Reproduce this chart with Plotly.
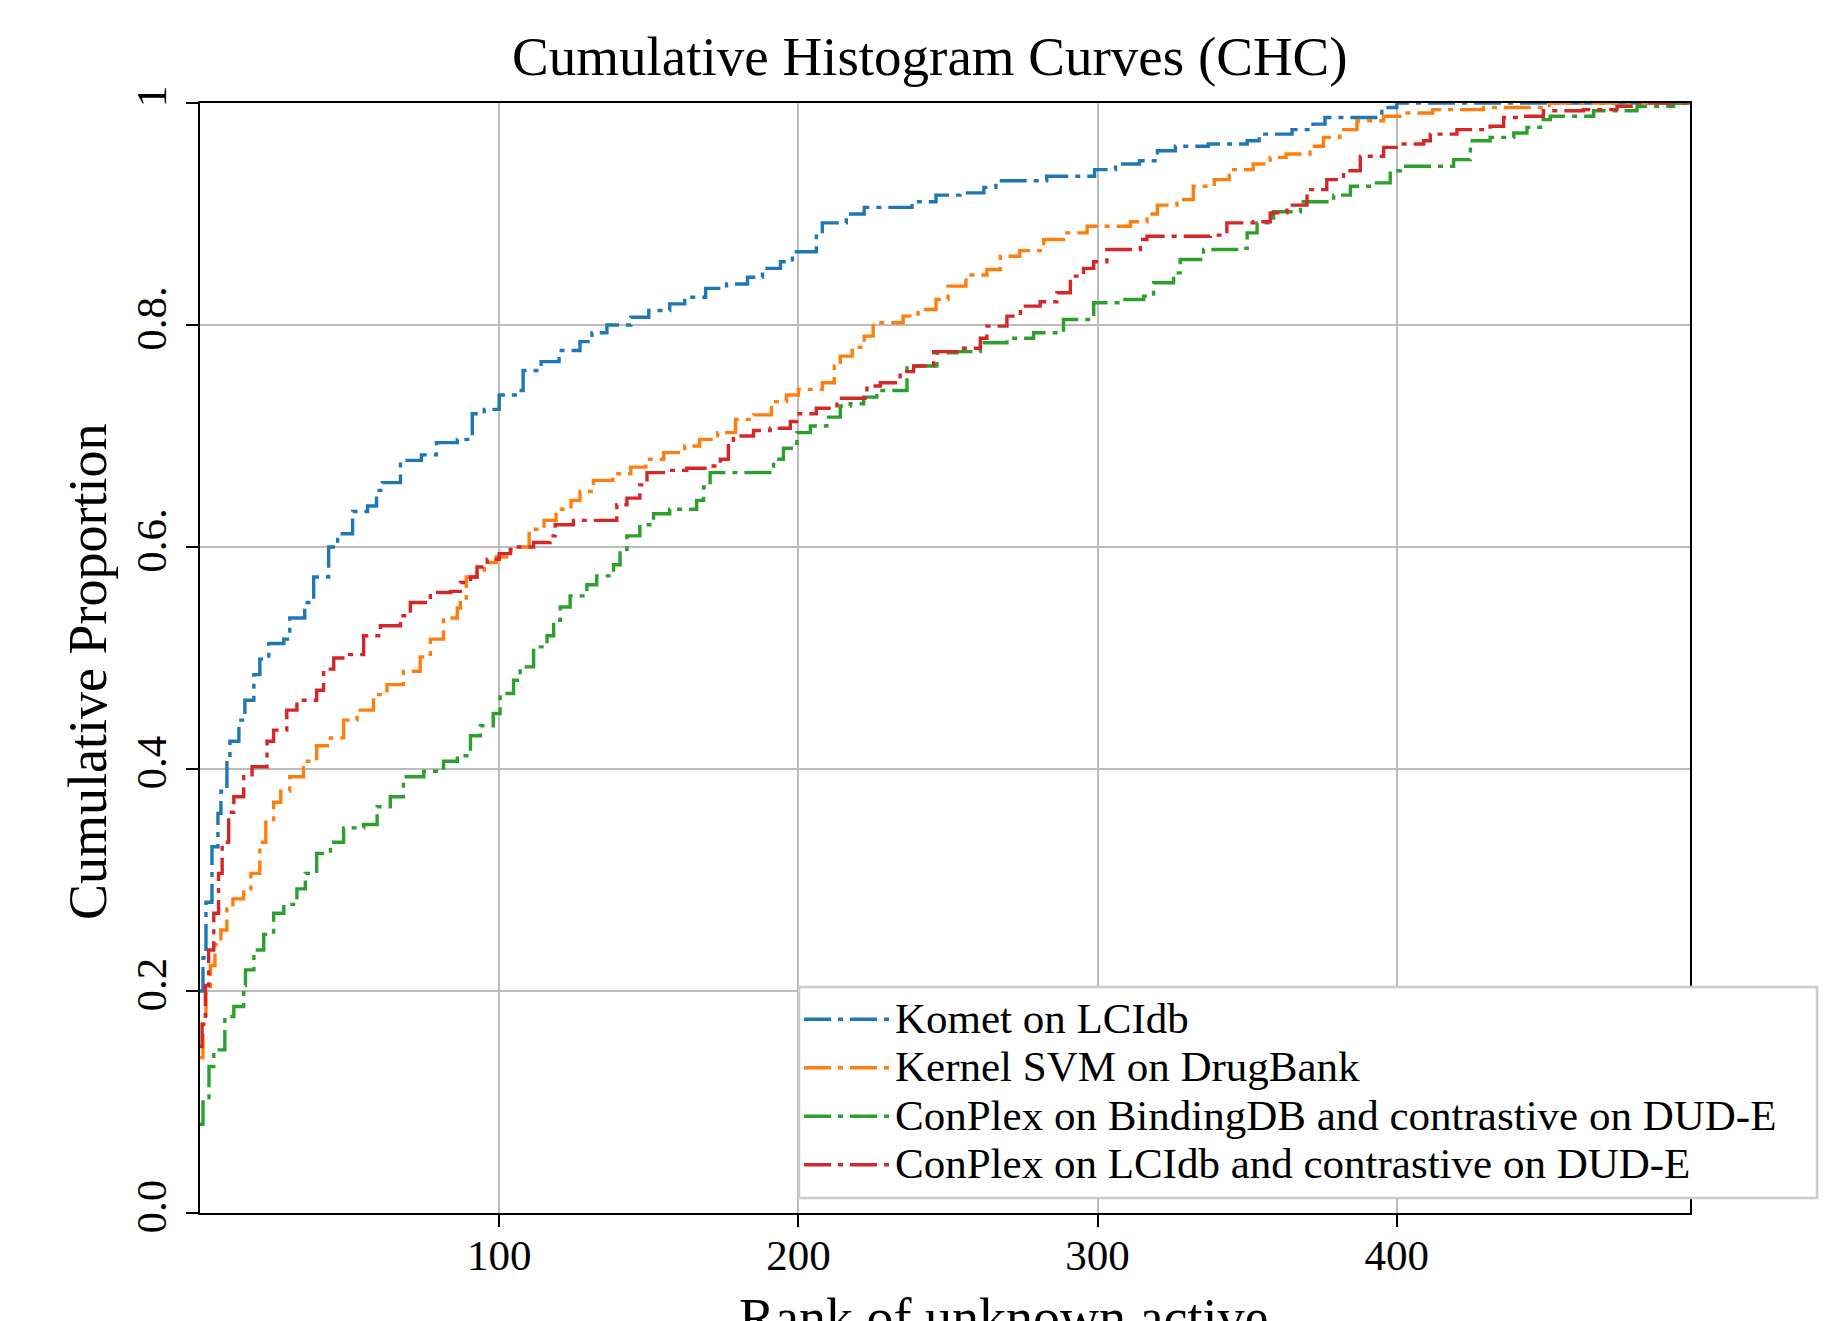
import plotly.graph_objects as go

# ---------------- data ----------------
komet_x = [0, 1, 2, 4, 6, 7, 9, 10, 13, 15, 18, 20, 23, 28, 30, 35, 38, 43, 46, 51, 56, 59, 61,
           67, 74, 79, 86, 91, 95, 100, 106, 108, 114, 120, 127, 131, 136, 144, 150, 157, 162,
           169, 176, 183, 188, 194, 198, 206, 208, 216, 222, 238, 246, 254, 262, 266, 283, 299,
           306, 314, 320, 326, 337, 350, 354, 365, 372, 376, 395, 400, 498]
komet_y = [0.20, 0.23, 0.28, 0.33, 0.36, 0.38, 0.41, 0.425, 0.444, 0.462, 0.485, 0.499, 0.513,
           0.517, 0.536, 0.55, 0.573, 0.60, 0.612, 0.632, 0.637, 0.651, 0.658, 0.678, 0.683,
           0.694, 0.697, 0.72, 0.724, 0.737, 0.741, 0.759, 0.767, 0.777, 0.785, 0.793, 0.80,
           0.807, 0.813, 0.819, 0.825, 0.833, 0.837, 0.843, 0.851, 0.857, 0.866, 0.88, 0.892,
           0.90, 0.906, 0.911, 0.917, 0.919, 0.924, 0.93, 0.934, 0.94, 0.945, 0.948, 0.957,
           0.961, 0.963, 0.966, 0.972, 0.976, 0.981, 0.987, 0.996, 1.0, 1.0]

svm_x = [0, 1, 2, 3.5, 5, 7, 9, 11, 14.6, 17, 20, 22, 24.6, 27, 30, 34.6, 39, 43.6, 48, 52.5, 58,
         62.5, 68, 73.6, 77, 81.4, 86, 87, 89, 92.6, 95, 99, 104, 110, 115, 119, 124, 127, 131.5,
         138, 144, 149, 155, 162, 167, 173, 179, 185, 191, 196, 200, 208, 212, 214, 218, 222,
         225, 235, 240, 246, 250, 256, 263, 267.5, 274, 282, 288.6, 296.5, 311, 316.5, 320,
         326.5, 332, 339, 344, 352, 357.7, 363, 371, 375.5, 381, 386.7, 395.6, 401, 412, 429,
         451, 498]
svm_y = [0.14, 0.17, 0.20, 0.223, 0.242, 0.255, 0.274, 0.283, 0.292, 0.306, 0.334, 0.352, 0.37,
         0.38, 0.393, 0.407, 0.421, 0.428, 0.444, 0.453, 0.467, 0.476, 0.488, 0.501, 0.517,
         0.536, 0.545, 0.554, 0.573, 0.577, 0.586, 0.591, 0.60, 0.616, 0.624, 0.634, 0.642,
         0.65, 0.66, 0.666, 0.672, 0.679, 0.685, 0.691, 0.697, 0.703, 0.715, 0.719, 0.731,
         0.737, 0.742, 0.748, 0.763, 0.772, 0.78, 0.79, 0.802, 0.808, 0.814, 0.823, 0.835,
         0.845, 0.85, 0.862, 0.867, 0.877, 0.883, 0.889, 0.893, 0.90, 0.908, 0.913, 0.925,
         0.931, 0.94, 0.945, 0.951, 0.954, 0.961, 0.969, 0.976, 0.984, 0.988, 0.991, 0.994,
         0.996, 1.0, 1.0]

bdb_x = [0, 1, 3, 4.6, 8.3, 11.3, 14.6, 15.2, 18, 21.3, 24.6, 28, 32.4, 35.2, 39, 43.6, 48, 54.7,
         59.2, 63.6, 68, 74.8, 81.4, 86, 90.4, 93.7, 98, 100.3, 104.8, 107, 111.5, 116, 118.2,
         120.4, 123.7, 129.3, 132.6, 138.2, 140.4, 142.7, 147, 151.6, 157, 166, 168.3, 170.5,
         191.7, 195, 199.5, 204, 209.5, 214, 217.3, 221.8, 226.2, 236.3, 246.3, 253, 260.8,
         269.7, 278.6, 288.6, 298.7, 307.6, 315.4, 318.7, 325.4, 327.6, 335.4, 347.7, 350,
         353.3, 358.8, 367.8, 378.9, 384.5, 392.3, 397.8, 401.2, 419, 424.6, 431.2, 439.1,
         443.5, 448, 451.3, 465.8, 480.3, 492.5, 498]
bdb_y = [0.08, 0.10, 0.132, 0.147, 0.177, 0.186, 0.205, 0.219, 0.237, 0.251, 0.27, 0.278, 0.292,
         0.306, 0.324, 0.334, 0.347, 0.35, 0.366, 0.375, 0.393, 0.398, 0.407, 0.412, 0.43,
         0.439, 0.45, 0.468, 0.48, 0.492, 0.51, 0.52, 0.534, 0.546, 0.556, 0.566, 0.574, 0.584,
         0.598, 0.61, 0.62, 0.63, 0.634, 0.642, 0.654, 0.667, 0.679, 0.689, 0.703, 0.709,
         0.717, 0.727, 0.729, 0.735, 0.741, 0.763, 0.775, 0.776, 0.784, 0.788, 0.793, 0.805,
         0.82, 0.823, 0.826, 0.838, 0.847, 0.859, 0.868, 0.869, 0.883, 0.892, 0.902, 0.911,
         0.917, 0.925, 0.928, 0.939, 0.943, 0.949, 0.966, 0.969, 0.973, 0.978, 0.985, 0.988,
         0.993, 0.997, 1.0, 1.0]

lci_x = [0, 0.7, 1.8, 2.9, 4.6, 6.2, 7.4, 9.6, 11.3, 14.6, 17.4, 22.4, 24.6, 29, 32.4, 39, 41.3,
         44.7, 50, 54.7, 60.3, 67, 70.3, 77, 83.7, 87, 90.4, 92.6, 96, 100, 103.7, 111.5, 117,
         118.7, 124.8, 139.3, 142.7, 147, 149.4, 156, 162.7, 169.4, 173.9, 176.6, 178.3, 185,
         190.6, 197.3, 199.5, 206, 212.9, 222.9, 227.4, 234, 238.5, 245.2, 253, 260.8, 263,
         269.7, 274.2, 280.8, 286.4, 290.9, 295.3, 298.7, 303.1, 314.3, 316.5, 337.7, 343.2,
         352.2, 357.7, 363.3, 370, 376.6, 382.2, 387.8, 395.6, 401.2, 409, 411.2, 420.1, 431.2,
         435.7, 442.4, 449, 462.4, 473.6, 479, 498]
lci_y = [0.15, 0.17, 0.205, 0.237, 0.27, 0.306, 0.334, 0.361, 0.375, 0.393, 0.402, 0.425, 0.435,
         0.453, 0.462, 0.471, 0.49, 0.50, 0.503, 0.52, 0.529, 0.538, 0.55, 0.559, 0.56, 0.568,
         0.573, 0.582, 0.589, 0.594, 0.60, 0.604, 0.61, 0.62, 0.624, 0.638, 0.644, 0.656,
         0.667, 0.669, 0.671, 0.673, 0.679, 0.693, 0.70, 0.705, 0.707, 0.713, 0.72, 0.725,
         0.734, 0.745, 0.748, 0.758, 0.763, 0.776, 0.779, 0.788, 0.799, 0.808, 0.817, 0.821,
         0.829, 0.844, 0.851, 0.857, 0.868, 0.877, 0.88, 0.881, 0.892, 0.893, 0.901, 0.908,
         0.922, 0.931, 0.939, 0.952, 0.96, 0.963, 0.966, 0.972, 0.976, 0.979, 0.987, 0.988,
         0.993, 0.994, 0.997, 1.0, 1.0]

series_names = ["Komet on LCIdb", "Kernel SVM on DrugBank",
                "ConPlex on BindingDB and contrastive on DUD-E",
                "ConPlex on LCIdb and contrastive on DUD-E"]
series_x = [komet_x, svm_x, bdb_x, lci_x]
series_y = [komet_y, svm_y, bdb_y, lci_y]
series_colors = ["#1f77b4", "#ff7f0e", "#2ca02c", "#d62728"]

x_tickvals = [100, 200, 300, 400]
y_tickvals = [0, 0.2, 0.4, 0.6, 0.8, 1]
y_ticktext = ["0.0", "0.2", "0.4", "0.6.", "0.8.", "1"]

title_text = "Cumulative Histogram Curves (CHC)"
x_title = "Rank of unknown active"
y_title = "Cumulative Proportion"

# ---------------- figure ----------------
FONT = "Liberation Serif, Times New Roman, serif"
fig = go.Figure()
for name, xs, ys, col in zip(series_names, series_x, series_y, series_colors):
    assert len(xs) == len(ys), name
    fig.add_trace(go.Scatter(
        x=xs, y=ys, mode="lines", line_shape="hv",
        name='<span style="font-size:43px">' + name + '</span>',
        line=dict(color=col, width=3.4, dash="27px,7px,5px,7px"),
    ))

OFF = 8  # page body margin of the written html
W, H = 1837, 1313
L, R, T, B = 192, 155, 95, 108
pw, ph = W - L - R, H - T - B


def px_to_paper_x(px):
    return (px - OFF - L) / pw


def px_to_paper_y(py):
    return (OFF + H - B - py) / ph


axis_common = dict(
    showline=True, mirror=True, linecolor="black", linewidth=2,
    ticks="outside", ticklen=12, tickwidth=2, tickcolor="black",
    showgrid=True, gridcolor="#bcbcbc", gridwidth=2, zeroline=False,
    tickfont=dict(family=FONT, size=43, color="black"),
)

fig.update_layout(
    width=W, height=H,
    margin=dict(l=L, r=R, t=T, b=B),
    paper_bgcolor="white", plot_bgcolor="white",
    font=dict(family=FONT, color="black"),
    xaxis=dict(range=[0, 498], tickvals=x_tickvals, ticklabelstandoff=-9, **axis_common),
    yaxis=dict(range=[0, 1], tickvals=y_tickvals, ticktext=y_ticktext,
               tickangle=-90, ticklabelstandoff=3, **axis_common),
    legend=dict(
        x=px_to_paper_x(799), y=px_to_paper_y(990), xanchor="left", yanchor="top",
        bgcolor="rgba(0,0,0,0)", borderwidth=0,
        font=dict(family=FONT, size=35, color="black"),
        itemwidth=86, tracegroupgap=0,
    ),
    showlegend=True,
)

# legend frame (drawn above the curves, below the legend entries)
fig.add_shape(type="rect", xref="paper", yref="paper", layer="above",
              x0=px_to_paper_x(799), x1=px_to_paper_x(1817),
              y0=px_to_paper_y(1198), y1=px_to_paper_y(987),
              fillcolor="white", line=dict(color="#cccccc", width=2.5))

fig.add_annotation(text=title_text, xref="paper", yref="paper",
                   x=px_to_paper_x(930), y=px_to_paper_y(57),
                   xanchor="center", yanchor="middle", showarrow=False,
                   font=dict(family=FONT, size=55, color="black"))
fig.add_annotation(text=x_title, xref="paper", yref="paper",
                   x=px_to_paper_x(1004), y=px_to_paper_y(1318),
                   xanchor="center", yanchor="middle", showarrow=False,
                   font=dict(family=FONT, size=54, color="black"))
fig.add_annotation(text=y_title, xref="paper", yref="paper",
                   x=px_to_paper_x(88), y=px_to_paper_y(672),
                   xanchor="center", yanchor="middle", showarrow=False, textangle=-90,
                   font=dict(family=FONT, size=54, color="black"))

fig.write_html("out.html")
